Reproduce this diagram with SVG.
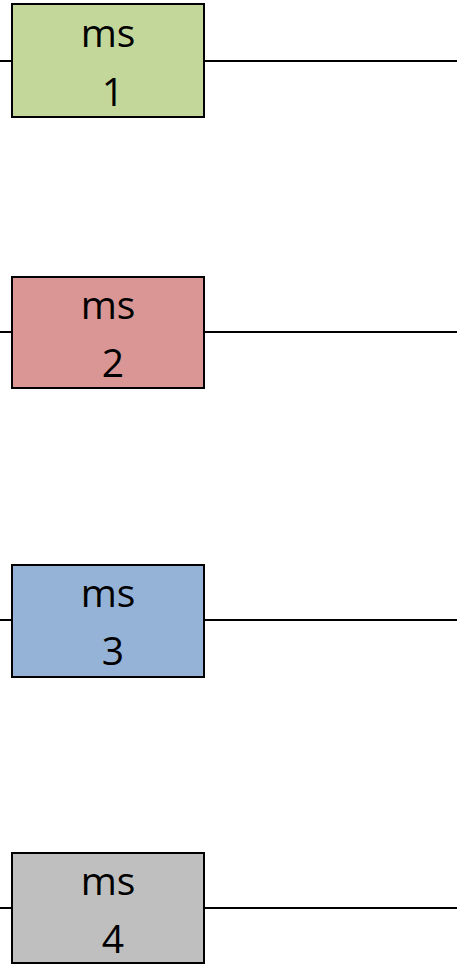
<svg xmlns="http://www.w3.org/2000/svg" width="457" height="965" viewBox="0 0 457 965">
<style>
.box{stroke:#000;stroke-width:2}
.wire{stroke:#000;stroke-width:2;fill:none}
.t{font-family:"Open Sans","Liberation Sans",sans-serif;font-size:39px;fill:#000;text-anchor:middle}
</style>
<rect width="457" height="965" fill="#fff"/>
<g id="connectors">
<line class="wire" x1="0" y1="61" x2="12" y2="61"/>
<line class="wire" x1="204" y1="61" x2="457" y2="61"/>
<line class="wire" x1="0" y1="332" x2="12" y2="332"/>
<line class="wire" x1="204" y1="332" x2="457" y2="332"/>
<line class="wire" x1="0" y1="620" x2="12" y2="620"/>
<line class="wire" x1="204" y1="620" x2="457" y2="620"/>
<line class="wire" x1="0" y1="908" x2="12" y2="908"/>
<line class="wire" x1="204" y1="908" x2="457" y2="908"/>
</g>
<g id="ms1">
<rect class="box" x="12" y="4" width="192" height="113" fill="#C4D79B"/>
<text class="t" x="108" y="47">ms</text>
<text class="t" x="113" y="106">1</text>
</g>
<g id="ms2">
<rect class="box" x="12" y="277" width="192" height="111" fill="#D99694"/>
<text class="t" x="108" y="319">ms</text>
<text class="t" x="113" y="377">2</text>
</g>
<g id="ms3">
<rect class="box" x="12" y="565" width="192" height="112" fill="#95B3D7"/>
<text class="t" x="108" y="607">ms</text>
<text class="t" x="113" y="665">3</text>
</g>
<g id="ms4">
<rect class="box" x="12" y="853" width="192" height="110" fill="#BFBFBF"/>
<text class="t" x="108" y="895">ms</text>
<text class="t" x="113" y="953">4</text>
</g>
</svg>
